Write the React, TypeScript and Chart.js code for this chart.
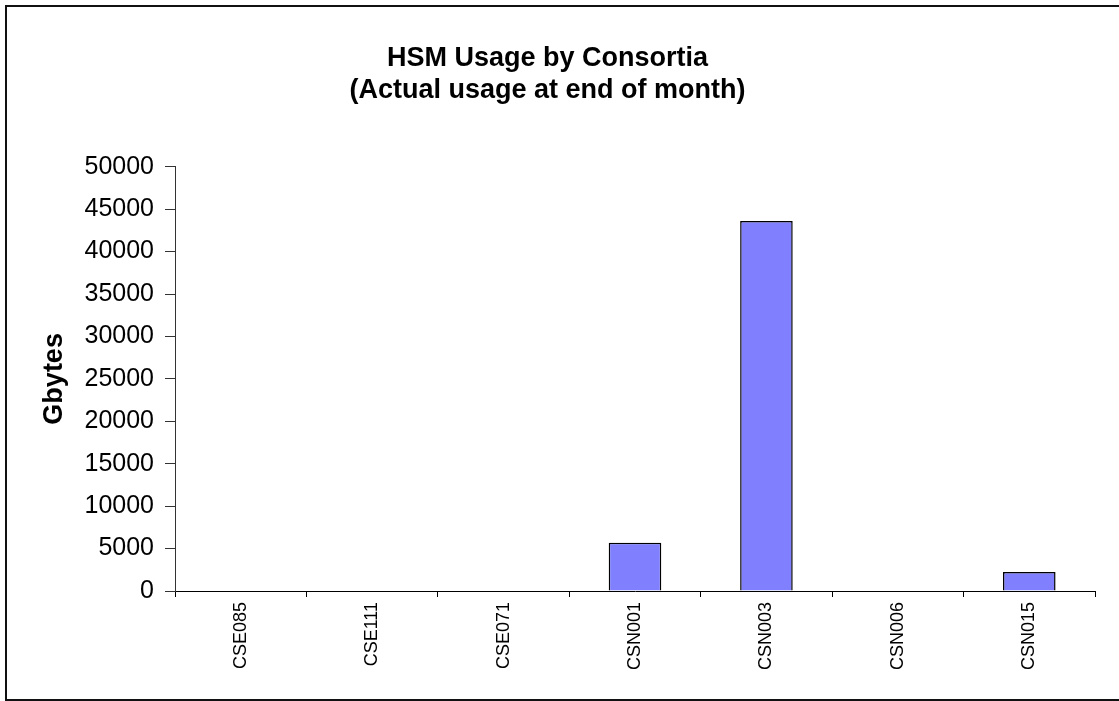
import React, { useEffect, useRef } from "react";
import { Chart, registerables } from "chart.js";

Chart.register(...registerables);

const categories: string[] = ["CSE085", "CSE111", "CSE071", "CSN001", "CSN003", "CSN006", "CSN015"];
const gbytes: number[] = [0, 0, 0, 5700, 43600, 0, 2250];
const titleLines: string[] = ["HSM Usage by Consortia", "(Actual usage at end of month)"];
const yAxisTitle = "Gbytes";
const yMin = 0;
const yMax = 50000;
const yStep = 5000;

const FONT = "'Liberation Sans', Arial, Helvetica, sans-serif";

export default function App() {
  const canvasRef = useRef<HTMLCanvasElement | null>(null);

  useEffect(() => {
    const canvas = canvasRef.current;
    if (!canvas) return;
    const chart = new Chart(canvas, {
      type: "bar",
      data: {
        labels: categories,
        datasets: [
          {
            label: "Gbytes",
            data: gbytes,
            backgroundColor: "#8080FF",
            borderColor: "#000000",
            borderWidth: (ctx: any) => (ctx.raw ? 1.5 : 0),
            borderSkipped: "bottom",
            barPercentage: 0.4,
            categoryPercentage: 1,
          },
        ],
      },
      options: {
        responsive: false,
        animation: false,
        devicePixelRatio: 1,
        layout: { padding: { left: 0, right: 24, top: 0, bottom: 10 } },
        plugins: {
          legend: { display: false },
          tooltip: { enabled: false },
          title: {
            display: true,
            text: titleLines,
            color: "#000",
            font: { family: FONT, size: 27, weight: "bold", lineHeight: 1.18 },
            padding: { top: 43, bottom: 60 },
          },
        },
        scales: {
          x: {
            offset: true,
            grid: {
              display: true,
              offset: true,
              drawOnChartArea: false,
              drawTicks: true,
              tickLength: 6,
              color: "#000",
            },
            border: { display: true, color: "#000", width: 1 },
            ticks: {
              color: "#000",
              font: { family: FONT, size: 18 },
              maxRotation: 90,
              minRotation: 90,
              autoSkip: false,
              padding: 5,
            },
            afterFit: (scale: any) => {
              scale.height = 100;
            },
          },
          y: {
            min: yMin,
            max: yMax,
            grid: {
              display: true,
              drawOnChartArea: false,
              drawTicks: true,
              tickLength: 10,
              color: "#333",
            },
            border: { display: true, color: "#333", width: 1 },
            ticks: {
              stepSize: yStep,
              color: "#000",
              font: { family: FONT, size: 25 },
              padding: 11,
              callback: (value: any) => String(value),
            },
            title: {
              display: true,
              text: yAxisTitle,
              color: "#000",
              font: { family: FONT, size: 27, weight: "bold", lineHeight: 1.2 },
              padding: { top: 38, bottom: 0 },
            },
            afterFit: (scale: any) => {
              scale.width = 175;
            },
          },
        },
      },
    });
    return () => chart.destroy();
  }, []);

  return (
    <div style={{ position: "absolute", left: 0, top: 0, width: 1119, height: 701, overflow: "hidden", background: "#fff" }}>
      <div
        style={{
          position: "absolute",
          left: 5,
          top: 5,
          width: 1200,
          height: 696,
          border: "2px solid #111",
          boxSizing: "border-box",
        }}
      />
      <canvas ref={canvasRef} width={1119} height={701} style={{ position: "absolute", left: 0, top: 0 }} />
    </div>
  );
}
